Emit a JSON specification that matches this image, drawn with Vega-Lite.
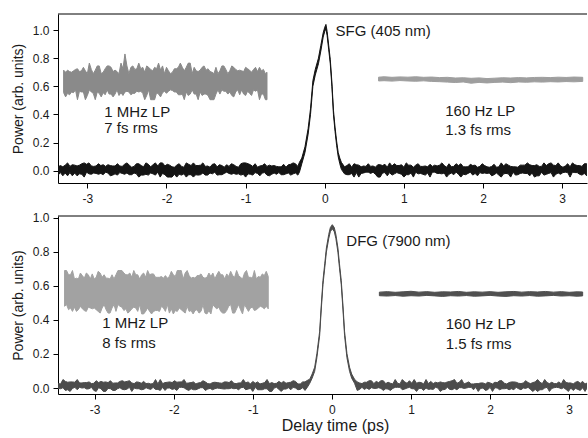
{
"$schema": "https://vega.github.io/schema/vega-lite/v6.json",
"padding": {"left": 11, "top": 13, "right": 0, "bottom": 2},
"background": "white",
"datasets": {
"top": [
{"s":"tm","t":-3.37,"l":-0.031,"h":0.028},{"s":"tm","t":-3.34,"l":-0.013,"h":0.037},{"s":"tm","t":-3.31,"l":-0.036,"h":0.028},{"s":"tm","t":-3.28,"l":-0.016,"h":0.04},{"s":"tm","t":-3.25,"l":-0.036,"h":0.056},{"s":"tm","t":-3.22,"l":-0.013,"h":0.031},{"s":"tm","t":-3.19,"l":-0.036,"h":0.043},{"s":"tm","t":-3.16,"l":-0.016,"h":0.04},{"s":"tm","t":-3.13,"l":-0.036,"h":0.034},{"s":"tm","t":-3.10,"l":-0.022,"h":0.04},
{"s":"tm","t":-3.07,"l":-0.025,"h":0.05},{"s":"tm","t":-3.04,"l":-0.045,"h":0.056},{"s":"tm","t":-3.01,"l":-0.01,"h":0.046},{"s":"tm","t":-2.98,"l":-0.022,"h":0.056},{"s":"tm","t":-2.95,"l":-0.025,"h":0.034},{"s":"tm","t":-2.92,"l":-0.016,"h":0.031},{"s":"tm","t":-2.89,"l":-0.019,"h":0.034},{"s":"tm","t":-2.86,"l":-0.025,"h":0.05},{"s":"tm","t":-2.83,"l":-0.019,"h":0.037},{"s":"tm","t":-2.80,"l":-0.028,"h":0.043},
{"s":"tm","t":-2.77,"l":-0.01,"h":0.031},{"s":"tm","t":-2.74,"l":-0.016,"h":0.043},{"s":"tm","t":-2.71,"l":-0.036,"h":0.037},{"s":"tm","t":-2.68,"l":-0.031,"h":0.034},{"s":"tm","t":-2.65,"l":-0.022,"h":0.034},{"s":"tm","t":-2.62,"l":-0.031,"h":0.05},{"s":"tm","t":-2.59,"l":-0.013,"h":0.034},{"s":"tm","t":-2.56,"l":-0.019,"h":0.031},{"s":"tm","t":-2.53,"l":-0.025,"h":0.046},{"s":"tm","t":-2.50,"l":-0.016,"h":0.056},
{"s":"tm","t":-2.47,"l":-0.028,"h":0.04},{"s":"tm","t":-2.44,"l":-0.028,"h":0.025},{"s":"tm","t":-2.41,"l":-0.016,"h":0.031},{"s":"tm","t":-2.38,"l":-0.022,"h":0.05},{"s":"tm","t":-2.35,"l":-0.045,"h":0.05},{"s":"tm","t":-2.32,"l":-0.031,"h":0.037},{"s":"tm","t":-2.29,"l":-0.031,"h":0.028},{"s":"tm","t":-2.26,"l":-0.025,"h":0.056},{"s":"tm","t":-2.23,"l":-0.031,"h":0.046},{"s":"tm","t":-2.20,"l":-0.016,"h":0.028},
{"s":"tm","t":-2.17,"l":-0.022,"h":0.043},{"s":"tm","t":-2.14,"l":-0.031,"h":0.056},{"s":"tm","t":-2.11,"l":-0.01,"h":0.034},{"s":"tm","t":-2.08,"l":-0.045,"h":0.056},{"s":"tm","t":-2.05,"l":-0.019,"h":0.056},{"s":"tm","t":-2.02,"l":-0.028,"h":0.034},{"s":"tm","t":-1.99,"l":-0.045,"h":0.046},{"s":"tm","t":-1.96,"l":-0.045,"h":0.04},{"s":"tm","t":-1.93,"l":-0.045,"h":0.028},{"s":"tm","t":-1.90,"l":-0.025,"h":0.025},
{"s":"tm","t":-1.87,"l":-0.045,"h":0.04},{"s":"tm","t":-1.84,"l":-0.025,"h":0.05},{"s":"tm","t":-1.81,"l":-0.031,"h":0.031},{"s":"tm","t":-1.78,"l":-0.022,"h":0.025},{"s":"tm","t":-1.75,"l":-0.045,"h":0.056},{"s":"tm","t":-1.72,"l":-0.028,"h":0.046},{"s":"tm","t":-1.69,"l":-0.028,"h":0.037},{"s":"tm","t":-1.66,"l":-0.045,"h":0.056},{"s":"tm","t":-1.63,"l":-0.028,"h":0.037},{"s":"tm","t":-1.60,"l":-0.031,"h":0.037},
{"s":"tm","t":-1.57,"l":-0.028,"h":0.04},{"s":"tm","t":-1.54,"l":-0.016,"h":0.056},{"s":"tm","t":-1.51,"l":-0.031,"h":0.031},{"s":"tm","t":-1.48,"l":-0.031,"h":0.034},{"s":"tm","t":-1.45,"l":-0.016,"h":0.025},{"s":"tm","t":-1.42,"l":-0.022,"h":0.046},{"s":"tm","t":-1.39,"l":-0.01,"h":0.05},{"s":"tm","t":-1.36,"l":-0.031,"h":0.028},{"s":"tm","t":-1.33,"l":-0.028,"h":0.043},{"s":"tm","t":-1.30,"l":-0.028,"h":0.037},
{"s":"tm","t":-1.27,"l":-0.019,"h":0.025},{"s":"tm","t":-1.24,"l":-0.01,"h":0.043},{"s":"tm","t":-1.21,"l":-0.019,"h":0.031},{"s":"tm","t":-1.18,"l":-0.025,"h":0.05},{"s":"tm","t":-1.15,"l":-0.019,"h":0.043},{"s":"tm","t":-1.12,"l":-0.025,"h":0.031},{"s":"tm","t":-1.09,"l":-0.022,"h":0.025},{"s":"tm","t":-1.06,"l":-0.031,"h":0.05},{"s":"tm","t":-1.03,"l":-0.025,"h":0.056},{"s":"tm","t":-1.00,"l":-0.045,"h":0.056},
{"s":"tm","t":-0.97,"l":-0.022,"h":0.05},{"s":"tm","t":-0.94,"l":-0.025,"h":0.043},{"s":"tm","t":-0.91,"l":-0.031,"h":0.031},{"s":"tm","t":-0.88,"l":-0.013,"h":0.05},{"s":"tm","t":-0.85,"l":-0.019,"h":0.025},{"s":"tm","t":-0.82,"l":-0.036,"h":0.034},{"s":"tm","t":-0.79,"l":-0.016,"h":0.037},{"s":"tm","t":-0.76,"l":-0.013,"h":0.05},{"s":"tm","t":-0.73,"l":-0.031,"h":0.031},{"s":"tm","t":-0.70,"l":-0.036,"h":0.04},
{"s":"tm","t":-0.67,"l":-0.025,"h":0.034},{"s":"tm","t":-0.64,"l":-0.016,"h":0.037},{"s":"tm","t":-0.61,"l":-0.025,"h":0.031},{"s":"tm","t":-0.58,"l":-0.013,"h":0.028},{"s":"tm","t":-0.55,"l":-0.028,"h":0.028},{"s":"tm","t":-0.52,"l":-0.028,"h":0.046},{"s":"tm","t":-0.49,"l":-0.022,"h":0.025},{"s":"tm","t":-0.46,"l":-0.016,"h":0.043},{"s":"tm","t":-0.43,"l":-0.031,"h":0.046},{"s":"tm","t":-0.40,"l":-0.022,"h":0.056},
{"s":"tm","t":-0.37,"l":-0.016,"h":0.05},{"s":"tm","t":-0.34,"l":-0.031,"h":0.031},{"s":"tm","t":-0.32,"l":-0.01,"h":0.06},
{"s":"tm","t":-0.29,"l":0.05,"h":0.09},{"s":"tm","t":-0.25,"l":0.13,"h":0.17},{"s":"tm","t":-0.21,"l":0.26,"h":0.30},{"s":"tm","t":-0.18,"l":0.40,"h":0.44},{"s":"tm","t":-0.15,"l":0.60,"h":0.64},{"s":"tm","t":-0.12,"l":0.68,"h":0.72},{"s":"tm","t":-0.08,"l":0.76,"h":0.80},{"s":"tm","t":-0.05,"l":0.85,"h":0.89},{"s":"tm","t":-0.02,"l":0.95,"h":0.98},{"s":"tm","t":0.00,"l":0.99,"h":1.02},{"s":"tm","t":0.015,"l":1.01,"h":1.04},{"s":"tm","t":0.03,"l":0.96,"h":0.99},{"s":"tm","t":0.05,"l":0.86,"h":0.89},{"s":"tm","t":0.07,"l":0.76,"h":0.79},{"s":"tm","t":0.09,"l":0.60,"h":0.63},{"s":"tm","t":0.11,"l":0.40,"h":0.43},{"s":"tm","t":0.13,"l":0.28,"h":0.31},{"s":"tm","t":0.15,"l":0.18,"h":0.21},{"s":"tm","t":0.17,"l":0.10,"h":0.13},{"s":"tm","t":0.19,"l":0.05,"h":0.09},{"s":"tm","t":0.21,"l":0.01,"h":0.06},
{"s":"tm","t":0.25,"l":-0.022,"h":0.028},{"s":"tm","t":0.28,"l":-0.028,"h":0.037},{"s":"tm","t":0.31,"l":-0.028,"h":0.05},{"s":"tm","t":0.34,"l":-0.019,"h":0.025},{"s":"tm","t":0.37,"l":-0.045,"h":0.05},{"s":"tm","t":0.40,"l":-0.013,"h":0.043},{"s":"tm","t":0.43,"l":-0.045,"h":0.04},{"s":"tm","t":0.46,"l":-0.019,"h":0.028},{"s":"tm","t":0.49,"l":-0.016,"h":0.034},{"s":"tm","t":0.52,"l":-0.01,"h":0.031},
{"s":"tm","t":0.55,"l":-0.01,"h":0.05},{"s":"tm","t":0.58,"l":-0.019,"h":0.031},{"s":"tm","t":0.61,"l":-0.01,"h":0.034},{"s":"tm","t":0.64,"l":-0.025,"h":0.025},{"s":"tm","t":0.67,"l":-0.045,"h":0.043},{"s":"tm","t":0.70,"l":-0.045,"h":0.043},{"s":"tm","t":0.73,"l":-0.016,"h":0.037},{"s":"tm","t":0.76,"l":-0.013,"h":0.046},{"s":"tm","t":0.79,"l":-0.036,"h":0.025},{"s":"tm","t":0.82,"l":-0.013,"h":0.056},
{"s":"tm","t":0.85,"l":-0.031,"h":0.034},{"s":"tm","t":0.88,"l":-0.022,"h":0.05},{"s":"tm","t":0.91,"l":-0.013,"h":0.037},{"s":"tm","t":0.94,"l":-0.019,"h":0.037},{"s":"tm","t":0.97,"l":-0.025,"h":0.043},{"s":"tm","t":1.00,"l":-0.045,"h":0.025},{"s":"tm","t":1.03,"l":-0.028,"h":0.056},{"s":"tm","t":1.06,"l":-0.028,"h":0.04},{"s":"tm","t":1.09,"l":-0.016,"h":0.04},{"s":"tm","t":1.12,"l":-0.045,"h":0.025},
{"s":"tm","t":1.15,"l":-0.01,"h":0.04},{"s":"tm","t":1.18,"l":-0.022,"h":0.05},{"s":"tm","t":1.21,"l":-0.019,"h":0.031},{"s":"tm","t":1.24,"l":-0.025,"h":0.031},{"s":"tm","t":1.27,"l":-0.031,"h":0.034},{"s":"tm","t":1.30,"l":-0.016,"h":0.028},{"s":"tm","t":1.33,"l":-0.045,"h":0.046},{"s":"tm","t":1.36,"l":-0.01,"h":0.031},{"s":"tm","t":1.39,"l":-0.01,"h":0.04},{"s":"tm","t":1.42,"l":-0.019,"h":0.034},
{"s":"tm","t":1.45,"l":-0.019,"h":0.04},{"s":"tm","t":1.48,"l":-0.022,"h":0.056},{"s":"tm","t":1.51,"l":-0.016,"h":0.037},{"s":"tm","t":1.54,"l":-0.045,"h":0.025},{"s":"tm","t":1.57,"l":-0.025,"h":0.05},{"s":"tm","t":1.60,"l":-0.016,"h":0.028},{"s":"tm","t":1.63,"l":-0.028,"h":0.031},{"s":"tm","t":1.66,"l":-0.01,"h":0.05},{"s":"tm","t":1.69,"l":-0.025,"h":0.037},{"s":"tm","t":1.72,"l":-0.045,"h":0.05},
{"s":"tm","t":1.75,"l":-0.025,"h":0.028},{"s":"tm","t":1.78,"l":-0.028,"h":0.028},{"s":"tm","t":1.81,"l":-0.019,"h":0.028},{"s":"tm","t":1.84,"l":-0.01,"h":0.046},{"s":"tm","t":1.87,"l":-0.031,"h":0.037},{"s":"tm","t":1.90,"l":-0.019,"h":0.04},{"s":"tm","t":1.93,"l":-0.036,"h":0.025},{"s":"tm","t":1.96,"l":-0.013,"h":0.031},{"s":"tm","t":1.99,"l":-0.019,"h":0.05},{"s":"tm","t":2.02,"l":-0.016,"h":0.037},
{"s":"tm","t":2.05,"l":-0.019,"h":0.028},{"s":"tm","t":2.08,"l":-0.016,"h":0.025},{"s":"tm","t":2.11,"l":-0.036,"h":0.031},{"s":"tm","t":2.14,"l":-0.028,"h":0.046},{"s":"tm","t":2.17,"l":-0.016,"h":0.025},{"s":"tm","t":2.20,"l":-0.031,"h":0.028},{"s":"tm","t":2.23,"l":-0.045,"h":0.056},{"s":"tm","t":2.26,"l":-0.022,"h":0.034},{"s":"tm","t":2.29,"l":-0.019,"h":0.05},{"s":"tm","t":2.32,"l":-0.022,"h":0.04},
{"s":"tm","t":2.35,"l":-0.045,"h":0.031},{"s":"tm","t":2.38,"l":-0.01,"h":0.028},{"s":"tm","t":2.41,"l":-0.031,"h":0.028},{"s":"tm","t":2.44,"l":-0.028,"h":0.025},{"s":"tm","t":2.47,"l":-0.019,"h":0.04},{"s":"tm","t":2.50,"l":-0.016,"h":0.04},{"s":"tm","t":2.53,"l":-0.019,"h":0.04},{"s":"tm","t":2.56,"l":-0.019,"h":0.056},{"s":"tm","t":2.59,"l":-0.036,"h":0.043},{"s":"tm","t":2.62,"l":-0.016,"h":0.037},
{"s":"tm","t":2.65,"l":-0.045,"h":0.037},{"s":"tm","t":2.68,"l":-0.036,"h":0.043},{"s":"tm","t":2.71,"l":-0.036,"h":0.031},{"s":"tm","t":2.74,"l":-0.01,"h":0.031},{"s":"tm","t":2.77,"l":-0.031,"h":0.056},{"s":"tm","t":2.80,"l":-0.025,"h":0.037},{"s":"tm","t":2.83,"l":-0.019,"h":0.05},{"s":"tm","t":2.86,"l":-0.013,"h":0.056},{"s":"tm","t":2.89,"l":-0.045,"h":0.04},{"s":"tm","t":2.92,"l":-0.025,"h":0.037},
{"s":"tm","t":2.95,"l":-0.016,"h":0.056},{"s":"tm","t":2.98,"l":-0.025,"h":0.034},{"s":"tm","t":3.01,"l":-0.013,"h":0.025},{"s":"tm","t":3.04,"l":-0.01,"h":0.034},{"s":"tm","t":3.07,"l":-0.013,"h":0.05},{"s":"tm","t":3.10,"l":-0.045,"h":0.028},{"s":"tm","t":3.13,"l":-0.01,"h":0.056},{"s":"tm","t":3.16,"l":-0.013,"h":0.043},{"s":"tm","t":3.19,"l":-0.013,"h":0.037},{"s":"tm","t":3.22,"l":-0.025,"h":0.037},
{"s":"tm","t":3.25,"l":-0.031,"h":0.031},{"s":"tm","t":3.28,"l":-0.019,"h":0.05},{"s":"tm","t":3.31,"l":-0.036,"h":0.05},
{"s":"ta","t":-3.300,"l":0.555,"h":0.715},{"s":"ta","t":-3.275,"l":0.525,"h":0.70},{"s":"ta","t":-3.250,"l":0.55,"h":0.715},{"s":"ta","t":-3.225,"l":0.54,"h":0.705},{"s":"ta","t":-3.200,"l":0.56,"h":0.70},{"s":"ta","t":-3.175,"l":0.555,"h":0.71},{"s":"ta","t":-3.150,"l":0.575,"h":0.72},{"s":"ta","t":-3.125,"l":0.505,"h":0.725},{"s":"ta","t":-3.100,"l":0.565,"h":0.705},{"s":"ta","t":-3.075,"l":0.56,"h":0.71},
{"s":"ta","t":-3.050,"l":0.56,"h":0.735},{"s":"ta","t":-3.025,"l":0.505,"h":0.71},{"s":"ta","t":-3.000,"l":0.535,"h":0.69},{"s":"ta","t":-2.975,"l":0.575,"h":0.765},{"s":"ta","t":-2.950,"l":0.56,"h":0.72},{"s":"ta","t":-2.925,"l":0.55,"h":0.69},{"s":"ta","t":-2.900,"l":0.505,"h":0.715},{"s":"ta","t":-2.875,"l":0.56,"h":0.745},{"s":"ta","t":-2.850,"l":0.55,"h":0.745},{"s":"ta","t":-2.825,"l":0.525,"h":0.69},
{"s":"ta","t":-2.800,"l":0.555,"h":0.70},{"s":"ta","t":-2.775,"l":0.54,"h":0.725},{"s":"ta","t":-2.750,"l":0.575,"h":0.745},{"s":"ta","t":-2.725,"l":0.545,"h":0.745},{"s":"ta","t":-2.700,"l":0.545,"h":0.735},{"s":"ta","t":-2.675,"l":0.525,"h":0.705},{"s":"ta","t":-2.650,"l":0.545,"h":0.715},{"s":"ta","t":-2.625,"l":0.575,"h":0.705},{"s":"ta","t":-2.600,"l":0.535,"h":0.69},{"s":"ta","t":-2.575,"l":0.555,"h":0.765},
{"s":"ta","t":-2.550,"l":0.535,"h":0.725},{"s":"ta","t":-2.525,"l":0.56,"h":0.83},{"s":"ta","t":-2.500,"l":0.565,"h":0.745},{"s":"ta","t":-2.475,"l":0.56,"h":0.69},{"s":"ta","t":-2.450,"l":0.54,"h":0.735},{"s":"ta","t":-2.425,"l":0.55,"h":0.745},{"s":"ta","t":-2.400,"l":0.55,"h":0.72},{"s":"ta","t":-2.375,"l":0.565,"h":0.725},{"s":"ta","t":-2.350,"l":0.56,"h":0.765},{"s":"ta","t":-2.325,"l":0.565,"h":0.725},
{"s":"ta","t":-2.300,"l":0.55,"h":0.735},{"s":"ta","t":-2.275,"l":0.505,"h":0.70},{"s":"ta","t":-2.250,"l":0.535,"h":0.745},{"s":"ta","t":-2.225,"l":0.575,"h":0.735},{"s":"ta","t":-2.200,"l":0.505,"h":0.72},{"s":"ta","t":-2.175,"l":0.505,"h":0.71},{"s":"ta","t":-2.150,"l":0.505,"h":0.735},{"s":"ta","t":-2.125,"l":0.555,"h":0.725},{"s":"ta","t":-2.100,"l":0.545,"h":0.765},{"s":"ta","t":-2.075,"l":0.525,"h":0.715},
{"s":"ta","t":-2.050,"l":0.555,"h":0.745},{"s":"ta","t":-2.025,"l":0.565,"h":0.69},{"s":"ta","t":-2.000,"l":0.55,"h":0.735},{"s":"ta","t":-1.975,"l":0.565,"h":0.71},{"s":"ta","t":-1.950,"l":0.575,"h":0.69},{"s":"ta","t":-1.925,"l":0.57,"h":0.70},{"s":"ta","t":-1.900,"l":0.56,"h":0.725},{"s":"ta","t":-1.875,"l":0.56,"h":0.725},{"s":"ta","t":-1.850,"l":0.54,"h":0.735},{"s":"ta","t":-1.825,"l":0.54,"h":0.765},
{"s":"ta","t":-1.800,"l":0.545,"h":0.735},{"s":"ta","t":-1.775,"l":0.505,"h":0.71},{"s":"ta","t":-1.750,"l":0.56,"h":0.735},{"s":"ta","t":-1.725,"l":0.535,"h":0.765},{"s":"ta","t":-1.700,"l":0.545,"h":0.765},{"s":"ta","t":-1.675,"l":0.575,"h":0.69},{"s":"ta","t":-1.650,"l":0.545,"h":0.735},{"s":"ta","t":-1.625,"l":0.545,"h":0.71},{"s":"ta","t":-1.600,"l":0.505,"h":0.705},{"s":"ta","t":-1.575,"l":0.56,"h":0.715},
{"s":"ta","t":-1.550,"l":0.535,"h":0.735},{"s":"ta","t":-1.525,"l":0.545,"h":0.745},{"s":"ta","t":-1.500,"l":0.545,"h":0.715},{"s":"ta","t":-1.475,"l":0.535,"h":0.725},{"s":"ta","t":-1.450,"l":0.505,"h":0.705},{"s":"ta","t":-1.425,"l":0.505,"h":0.70},{"s":"ta","t":-1.400,"l":0.505,"h":0.69},{"s":"ta","t":-1.375,"l":0.545,"h":0.735},{"s":"ta","t":-1.350,"l":0.575,"h":0.69},{"s":"ta","t":-1.325,"l":0.545,"h":0.71},
{"s":"ta","t":-1.300,"l":0.575,"h":0.745},{"s":"ta","t":-1.275,"l":0.565,"h":0.745},{"s":"ta","t":-1.250,"l":0.565,"h":0.72},{"s":"ta","t":-1.225,"l":0.545,"h":0.69},{"s":"ta","t":-1.200,"l":0.56,"h":0.71},{"s":"ta","t":-1.175,"l":0.535,"h":0.745},{"s":"ta","t":-1.150,"l":0.525,"h":0.735},{"s":"ta","t":-1.125,"l":0.56,"h":0.72},{"s":"ta","t":-1.100,"l":0.575,"h":0.71},{"s":"ta","t":-1.075,"l":0.54,"h":0.715},
{"s":"ta","t":-1.050,"l":0.575,"h":0.71},{"s":"ta","t":-1.025,"l":0.545,"h":0.705},{"s":"ta","t":-1.000,"l":0.535,"h":0.735},{"s":"ta","t":-0.975,"l":0.565,"h":0.725},{"s":"ta","t":-0.950,"l":0.55,"h":0.715},{"s":"ta","t":-0.925,"l":0.535,"h":0.70},{"s":"ta","t":-0.900,"l":0.575,"h":0.72},{"s":"ta","t":-0.875,"l":0.565,"h":0.735},{"s":"ta","t":-0.850,"l":0.575,"h":0.705},{"s":"ta","t":-0.825,"l":0.505,"h":0.735},
{"s":"ta","t":-0.800,"l":0.545,"h":0.71},{"s":"ta","t":-0.775,"l":0.545,"h":0.72},{"s":"ta","t":-0.750,"l":0.505,"h":0.69},{"s":"ta","t":-0.730,"l":0.505,"h":0.70},
{"s":"tb","t":0.68,"l":0.638,"h":0.665},{"s":"tb","t":0.75,"l":0.640,"h":0.668},{"s":"tb","t":0.85,"l":0.637,"h":0.664},{"s":"tb","t":0.95,"l":0.641,"h":0.667},{"s":"tb","t":1.05,"l":0.638,"h":0.665},{"s":"tb","t":1.15,"l":0.636,"h":0.668},{"s":"tb","t":1.25,"l":0.639,"h":0.664},{"s":"tb","t":1.35,"l":0.635,"h":0.666},{"s":"tb","t":1.45,"l":0.633,"h":0.662},{"s":"tb","t":1.55,"l":0.630,"h":0.664},{"s":"tb","t":1.65,"l":0.627,"h":0.659},{"s":"tb","t":1.75,"l":0.631,"h":0.661},{"s":"tb","t":1.85,"l":0.622,"h":0.657},{"s":"tb","t":1.95,"l":0.628,"h":0.660},{"s":"tb","t":2.05,"l":0.624,"h":0.655},{"s":"tb","t":2.15,"l":0.628,"h":0.658},{"s":"tb","t":2.25,"l":0.630,"h":0.661},{"s":"tb","t":2.35,"l":0.626,"h":0.659},{"s":"tb","t":2.45,"l":0.631,"h":0.662},{"s":"tb","t":2.55,"l":0.629,"h":0.660},{"s":"tb","t":2.65,"l":0.632,"h":0.663},{"s":"tb","t":2.75,"l":0.630,"h":0.664},{"s":"tb","t":2.85,"l":0.633,"h":0.662},{"s":"tb","t":2.95,"l":0.631,"h":0.665},{"s":"tb","t":3.05,"l":0.634,"h":0.663},{"s":"tb","t":3.15,"l":0.632,"h":0.666},{"s":"tb","t":3.26,"l":0.635,"h":0.664}
],
"bot": [
{"s":"bm","t":-3.46,"l":-0.002,"h":0.026},{"s":"bm","t":-3.43,"l":-0.004,"h":0.024},{"s":"bm","t":-3.40,"l":0.002,"h":0.05},{"s":"bm","t":-3.37,"l":-0.014,"h":0.039},{"s":"bm","t":-3.34,"l":-0.01,"h":0.034},{"s":"bm","t":-3.31,"l":-0.02,"h":0.036},{"s":"bm","t":-3.28,"l":-0.002,"h":0.036},{"s":"bm","t":-3.25,"l":0.004,"h":0.034},{"s":"bm","t":-3.22,"l":-0.01,"h":0.05},{"s":"bm","t":-3.19,"l":0.004,"h":0.03},
{"s":"bm","t":-3.16,"l":0.0,"h":0.03},{"s":"bm","t":-3.13,"l":0.002,"h":0.032},{"s":"bm","t":-3.10,"l":-0.006,"h":0.032},{"s":"bm","t":-3.07,"l":-0.004,"h":0.036},{"s":"bm","t":-3.04,"l":0.004,"h":0.026},{"s":"bm","t":-3.01,"l":-0.014,"h":0.028},{"s":"bm","t":-2.98,"l":-0.02,"h":0.043},{"s":"bm","t":-2.95,"l":0.002,"h":0.032},{"s":"bm","t":-2.92,"l":-0.004,"h":0.039},{"s":"bm","t":-2.89,"l":-0.02,"h":0.034},
{"s":"bm","t":-2.86,"l":-0.02,"h":0.036},{"s":"bm","t":-2.83,"l":-0.002,"h":0.032},{"s":"bm","t":-2.80,"l":-0.004,"h":0.043},{"s":"bm","t":-2.77,"l":-0.014,"h":0.028},{"s":"bm","t":-2.74,"l":-0.014,"h":0.03},{"s":"bm","t":-2.71,"l":-0.004,"h":0.03},{"s":"bm","t":-2.68,"l":0.002,"h":0.039},{"s":"bm","t":-2.65,"l":-0.008,"h":0.043},{"s":"bm","t":-2.62,"l":-0.01,"h":0.036},{"s":"bm","t":-2.59,"l":-0.006,"h":0.039},
{"s":"bm","t":-2.56,"l":0.004,"h":0.043},{"s":"bm","t":-2.53,"l":-0.02,"h":0.03},{"s":"bm","t":-2.50,"l":0.0,"h":0.026},{"s":"bm","t":-2.47,"l":-0.004,"h":0.036},{"s":"bm","t":-2.44,"l":-0.004,"h":0.034},{"s":"bm","t":-2.41,"l":-0.01,"h":0.028},{"s":"bm","t":-2.38,"l":-0.008,"h":0.039},{"s":"bm","t":-2.35,"l":0.002,"h":0.026},{"s":"bm","t":-2.32,"l":-0.004,"h":0.028},{"s":"bm","t":-2.29,"l":-0.008,"h":0.024},
{"s":"bm","t":-2.26,"l":0.004,"h":0.026},{"s":"bm","t":-2.23,"l":-0.008,"h":0.05},{"s":"bm","t":-2.20,"l":-0.008,"h":0.024},{"s":"bm","t":-2.17,"l":-0.014,"h":0.05},{"s":"bm","t":-2.14,"l":0.004,"h":0.026},{"s":"bm","t":-2.11,"l":-0.014,"h":0.032},{"s":"bm","t":-2.08,"l":0.0,"h":0.034},{"s":"bm","t":-2.05,"l":0.0,"h":0.036},{"s":"bm","t":-2.02,"l":-0.008,"h":0.032},{"s":"bm","t":-1.99,"l":-0.004,"h":0.043},
{"s":"bm","t":-1.96,"l":-0.014,"h":0.034},{"s":"bm","t":-1.93,"l":0.004,"h":0.036},{"s":"bm","t":-1.90,"l":0.004,"h":0.036},{"s":"bm","t":-1.87,"l":0.002,"h":0.05},{"s":"bm","t":-1.84,"l":-0.008,"h":0.028},{"s":"bm","t":-1.81,"l":-0.014,"h":0.03},{"s":"bm","t":-1.78,"l":-0.004,"h":0.032},{"s":"bm","t":-1.75,"l":-0.01,"h":0.036},{"s":"bm","t":-1.72,"l":-0.01,"h":0.024},{"s":"bm","t":-1.69,"l":-0.004,"h":0.03},
{"s":"bm","t":-1.66,"l":0.002,"h":0.032},{"s":"bm","t":-1.63,"l":0.002,"h":0.043},{"s":"bm","t":-1.60,"l":-0.014,"h":0.036},{"s":"bm","t":-1.57,"l":-0.006,"h":0.026},{"s":"bm","t":-1.54,"l":-0.002,"h":0.024},{"s":"bm","t":-1.51,"l":-0.01,"h":0.032},{"s":"bm","t":-1.48,"l":-0.004,"h":0.034},{"s":"bm","t":-1.45,"l":0.0,"h":0.032},{"s":"bm","t":-1.42,"l":-0.002,"h":0.03},{"s":"bm","t":-1.39,"l":-0.004,"h":0.028},
{"s":"bm","t":-1.36,"l":-0.006,"h":0.036},{"s":"bm","t":-1.33,"l":-0.004,"h":0.036},{"s":"bm","t":-1.30,"l":-0.004,"h":0.032},{"s":"bm","t":-1.27,"l":0.0,"h":0.043},{"s":"bm","t":-1.24,"l":-0.004,"h":0.028},{"s":"bm","t":-1.21,"l":-0.002,"h":0.026},{"s":"bm","t":-1.18,"l":-0.01,"h":0.03},{"s":"bm","t":-1.15,"l":0.002,"h":0.03},{"s":"bm","t":-1.12,"l":0.004,"h":0.05},{"s":"bm","t":-1.09,"l":-0.01,"h":0.03},
{"s":"bm","t":-1.06,"l":-0.006,"h":0.036},{"s":"bm","t":-1.03,"l":-0.002,"h":0.024},{"s":"bm","t":-1.00,"l":-0.02,"h":0.039},{"s":"bm","t":-0.97,"l":0.004,"h":0.028},{"s":"bm","t":-0.94,"l":-0.01,"h":0.036},{"s":"bm","t":-0.91,"l":-0.01,"h":0.024},{"s":"bm","t":-0.88,"l":-0.01,"h":0.028},{"s":"bm","t":-0.85,"l":-0.004,"h":0.032},{"s":"bm","t":-0.82,"l":-0.004,"h":0.05},{"s":"bm","t":-0.79,"l":-0.02,"h":0.026},
{"s":"bm","t":-0.76,"l":-0.02,"h":0.032},{"s":"bm","t":-0.73,"l":0.0,"h":0.026},{"s":"bm","t":-0.70,"l":0.004,"h":0.028},{"s":"bm","t":-0.67,"l":-0.008,"h":0.039},{"s":"bm","t":-0.64,"l":-0.02,"h":0.03},{"s":"bm","t":-0.61,"l":-0.006,"h":0.039},{"s":"bm","t":-0.58,"l":-0.006,"h":0.028},{"s":"bm","t":-0.55,"l":0.002,"h":0.032},{"s":"bm","t":-0.52,"l":-0.01,"h":0.034},{"s":"bm","t":-0.49,"l":0.004,"h":0.043},
{"s":"bm","t":-0.46,"l":0.0,"h":0.039},{"s":"bm","t":-0.43,"l":-0.01,"h":0.024},{"s":"bm","t":-0.40,"l":-0.008,"h":0.024},{"s":"bm","t":-0.37,"l":0.002,"h":0.036},{"s":"bm","t":-0.34,"l":-0.014,"h":0.036},{"s":"bm","t":-0.31,"l":0.005,"h":0.045},
{"s":"bm","t":-0.28,"l":0.028,"h":0.052},{"s":"bm","t":-0.25,"l":0.058,"h":0.082},{"s":"bm","t":-0.218,"l":0.098,"h":0.122},{"s":"bm","t":-0.19,"l":0.178,"h":0.202},{"s":"bm","t":-0.155,"l":0.308,"h":0.332},{"s":"bm","t":-0.135,"l":0.458,"h":0.482},{"s":"bm","t":-0.113,"l":0.608,"h":0.632},{"s":"bm","t":-0.09,"l":0.708,"h":0.732},{"s":"bm","t":-0.07,"l":0.798,"h":0.822},{"s":"bm","t":-0.04,"l":0.878,"h":0.902},{"s":"bm","t":-0.02,"l":0.918,"h":0.942},{"s":"bm","t":0.005,"l":0.935,"h":0.959},{"s":"bm","t":0.03,"l":0.918,"h":0.942},{"s":"bm","t":0.05,"l":0.878,"h":0.902},{"s":"bm","t":0.076,"l":0.798,"h":0.822},{"s":"bm","t":0.095,"l":0.708,"h":0.732},{"s":"bm","t":0.118,"l":0.608,"h":0.632},{"s":"bm","t":0.14,"l":0.458,"h":0.482},{"s":"bm","t":0.16,"l":0.308,"h":0.332},{"s":"bm","t":0.19,"l":0.178,"h":0.202},{"s":"bm","t":0.223,"l":0.098,"h":0.122},{"s":"bm","t":0.25,"l":0.058,"h":0.082},{"s":"bm","t":0.286,"l":0.028,"h":0.052},
{"s":"bm","t":0.32,"l":-0.014,"h":0.036},{"s":"bm","t":0.35,"l":-0.008,"h":0.03},{"s":"bm","t":0.38,"l":0.004,"h":0.026},{"s":"bm","t":0.41,"l":-0.008,"h":0.034},{"s":"bm","t":0.44,"l":0.0,"h":0.034},{"s":"bm","t":0.47,"l":-0.008,"h":0.043},{"s":"bm","t":0.50,"l":0.002,"h":0.043},{"s":"bm","t":0.53,"l":-0.002,"h":0.026},{"s":"bm","t":0.56,"l":-0.002,"h":0.039},{"s":"bm","t":0.59,"l":0.002,"h":0.032},
{"s":"bm","t":0.62,"l":-0.002,"h":0.043},{"s":"bm","t":0.65,"l":-0.014,"h":0.043},{"s":"bm","t":0.68,"l":-0.004,"h":0.026},{"s":"bm","t":0.71,"l":-0.006,"h":0.034},{"s":"bm","t":0.74,"l":-0.014,"h":0.028},{"s":"bm","t":0.77,"l":-0.002,"h":0.024},{"s":"bm","t":0.80,"l":0.004,"h":0.05},{"s":"bm","t":0.83,"l":0.004,"h":0.028},{"s":"bm","t":0.86,"l":0.004,"h":0.024},{"s":"bm","t":0.89,"l":-0.01,"h":0.05},
{"s":"bm","t":0.92,"l":-0.006,"h":0.036},{"s":"bm","t":0.95,"l":0.0,"h":0.028},{"s":"bm","t":0.98,"l":0.004,"h":0.043},{"s":"bm","t":1.01,"l":-0.004,"h":0.028},{"s":"bm","t":1.04,"l":-0.004,"h":0.05},{"s":"bm","t":1.07,"l":-0.02,"h":0.028},{"s":"bm","t":1.10,"l":-0.002,"h":0.034},{"s":"bm","t":1.13,"l":-0.002,"h":0.032},{"s":"bm","t":1.16,"l":-0.014,"h":0.024},{"s":"bm","t":1.19,"l":0.0,"h":0.05},
{"s":"bm","t":1.22,"l":-0.008,"h":0.026},{"s":"bm","t":1.25,"l":-0.006,"h":0.039},{"s":"bm","t":1.28,"l":-0.008,"h":0.026},{"s":"bm","t":1.31,"l":0.004,"h":0.034},{"s":"bm","t":1.34,"l":0.0,"h":0.03},{"s":"bm","t":1.37,"l":-0.02,"h":0.036},{"s":"bm","t":1.40,"l":-0.01,"h":0.032},{"s":"bm","t":1.43,"l":-0.008,"h":0.03},{"s":"bm","t":1.46,"l":0.004,"h":0.036},{"s":"bm","t":1.49,"l":-0.008,"h":0.039},
{"s":"bm","t":1.52,"l":-0.01,"h":0.043},{"s":"bm","t":1.55,"l":-0.002,"h":0.05},{"s":"bm","t":1.58,"l":-0.01,"h":0.028},{"s":"bm","t":1.61,"l":0.002,"h":0.034},{"s":"bm","t":1.64,"l":0.002,"h":0.05},{"s":"bm","t":1.67,"l":-0.002,"h":0.024},{"s":"bm","t":1.70,"l":0.0,"h":0.03},{"s":"bm","t":1.73,"l":0.004,"h":0.036},{"s":"bm","t":1.76,"l":0.004,"h":0.024},{"s":"bm","t":1.79,"l":-0.01,"h":0.024},
{"s":"bm","t":1.82,"l":0.004,"h":0.026},{"s":"bm","t":1.85,"l":-0.02,"h":0.026},{"s":"bm","t":1.88,"l":-0.002,"h":0.03},{"s":"bm","t":1.91,"l":0.0,"h":0.03},{"s":"bm","t":1.94,"l":-0.014,"h":0.024},{"s":"bm","t":1.97,"l":-0.01,"h":0.034},{"s":"bm","t":2.00,"l":0.004,"h":0.03},{"s":"bm","t":2.03,"l":-0.02,"h":0.024},{"s":"bm","t":2.06,"l":0.002,"h":0.034},{"s":"bm","t":2.09,"l":0.0,"h":0.032},
{"s":"bm","t":2.12,"l":-0.01,"h":0.043},{"s":"bm","t":2.15,"l":-0.004,"h":0.043},{"s":"bm","t":2.18,"l":-0.004,"h":0.028},{"s":"bm","t":2.21,"l":-0.002,"h":0.024},{"s":"bm","t":2.24,"l":-0.01,"h":0.032},{"s":"bm","t":2.27,"l":-0.004,"h":0.036},{"s":"bm","t":2.30,"l":-0.01,"h":0.036},{"s":"bm","t":2.33,"l":0.004,"h":0.034},{"s":"bm","t":2.36,"l":-0.004,"h":0.028},{"s":"bm","t":2.39,"l":-0.01,"h":0.026},
{"s":"bm","t":2.42,"l":0.0,"h":0.03},{"s":"bm","t":2.45,"l":-0.002,"h":0.043},{"s":"bm","t":2.48,"l":0.004,"h":0.032},{"s":"bm","t":2.51,"l":-0.008,"h":0.026},{"s":"bm","t":2.54,"l":-0.02,"h":0.032},{"s":"bm","t":2.57,"l":-0.008,"h":0.036},{"s":"bm","t":2.60,"l":-0.02,"h":0.05},{"s":"bm","t":2.63,"l":-0.01,"h":0.034},{"s":"bm","t":2.66,"l":-0.01,"h":0.026},{"s":"bm","t":2.69,"l":0.0,"h":0.05},
{"s":"bm","t":2.72,"l":0.004,"h":0.032},{"s":"bm","t":2.75,"l":-0.02,"h":0.026},{"s":"bm","t":2.78,"l":-0.002,"h":0.034},{"s":"bm","t":2.81,"l":0.002,"h":0.026},{"s":"bm","t":2.84,"l":0.004,"h":0.026},{"s":"bm","t":2.87,"l":0.002,"h":0.036},{"s":"bm","t":2.90,"l":-0.004,"h":0.024},{"s":"bm","t":2.93,"l":0.002,"h":0.05},{"s":"bm","t":2.96,"l":-0.008,"h":0.032},{"s":"bm","t":2.99,"l":-0.02,"h":0.03},
{"s":"bm","t":3.02,"l":0.0,"h":0.03},{"s":"bm","t":3.05,"l":-0.014,"h":0.024},{"s":"bm","t":3.08,"l":-0.002,"h":0.034},{"s":"bm","t":3.11,"l":-0.008,"h":0.039},{"s":"bm","t":3.14,"l":-0.014,"h":0.028},{"s":"bm","t":3.17,"l":0.002,"h":0.039},{"s":"bm","t":3.20,"l":-0.02,"h":0.024},{"s":"bm","t":3.23,"l":0.004,"h":0.03},
{"s":"ba","t":-3.380,"l":0.48,"h":0.69},{"s":"ba","t":-3.355,"l":0.49,"h":0.69},{"s":"ba","t":-3.330,"l":0.46,"h":0.665},{"s":"ba","t":-3.305,"l":0.47,"h":0.665},{"s":"ba","t":-3.280,"l":0.45,"h":0.69},{"s":"ba","t":-3.255,"l":0.475,"h":0.64},{"s":"ba","t":-3.230,"l":0.45,"h":0.645},{"s":"ba","t":-3.205,"l":0.46,"h":0.64},{"s":"ba","t":-3.180,"l":0.48,"h":0.675},{"s":"ba","t":-3.155,"l":0.465,"h":0.66},
{"s":"ba","t":-3.130,"l":0.455,"h":0.645},{"s":"ba","t":-3.105,"l":0.45,"h":0.675},{"s":"ba","t":-3.080,"l":0.475,"h":0.665},{"s":"ba","t":-3.055,"l":0.47,"h":0.64},{"s":"ba","t":-3.030,"l":0.465,"h":0.67},{"s":"ba","t":-3.005,"l":0.47,"h":0.64},{"s":"ba","t":-2.980,"l":0.46,"h":0.65},{"s":"ba","t":-2.955,"l":0.45,"h":0.685},{"s":"ba","t":-2.930,"l":0.44,"h":0.675},{"s":"ba","t":-2.905,"l":0.47,"h":0.65},
{"s":"ba","t":-2.880,"l":0.49,"h":0.665},{"s":"ba","t":-2.855,"l":0.46,"h":0.645},{"s":"ba","t":-2.830,"l":0.44,"h":0.645},{"s":"ba","t":-2.805,"l":0.44,"h":0.64},{"s":"ba","t":-2.780,"l":0.47,"h":0.665},{"s":"ba","t":-2.755,"l":0.49,"h":0.64},{"s":"ba","t":-2.730,"l":0.45,"h":0.665},{"s":"ba","t":-2.705,"l":0.49,"h":0.69},{"s":"ba","t":-2.680,"l":0.48,"h":0.69},{"s":"ba","t":-2.655,"l":0.475,"h":0.69},
{"s":"ba","t":-2.630,"l":0.455,"h":0.675},{"s":"ba","t":-2.605,"l":0.465,"h":0.665},{"s":"ba","t":-2.580,"l":0.44,"h":0.665},{"s":"ba","t":-2.555,"l":0.45,"h":0.675},{"s":"ba","t":-2.530,"l":0.465,"h":0.65},{"s":"ba","t":-2.505,"l":0.475,"h":0.69},{"s":"ba","t":-2.480,"l":0.47,"h":0.665},{"s":"ba","t":-2.455,"l":0.45,"h":0.665},{"s":"ba","t":-2.430,"l":0.49,"h":0.64},{"s":"ba","t":-2.405,"l":0.435,"h":0.665},
{"s":"ba","t":-2.380,"l":0.435,"h":0.675},{"s":"ba","t":-2.355,"l":0.45,"h":0.65},{"s":"ba","t":-2.330,"l":0.47,"h":0.69},{"s":"ba","t":-2.305,"l":0.45,"h":0.665},{"s":"ba","t":-2.280,"l":0.435,"h":0.67},{"s":"ba","t":-2.255,"l":0.45,"h":0.67},{"s":"ba","t":-2.230,"l":0.455,"h":0.65},{"s":"ba","t":-2.205,"l":0.455,"h":0.65},{"s":"ba","t":-2.180,"l":0.45,"h":0.65},{"s":"ba","t":-2.155,"l":0.48,"h":0.655},
{"s":"ba","t":-2.130,"l":0.47,"h":0.645},{"s":"ba","t":-2.105,"l":0.45,"h":0.66},{"s":"ba","t":-2.080,"l":0.49,"h":0.645},{"s":"ba","t":-2.055,"l":0.44,"h":0.655},{"s":"ba","t":-2.030,"l":0.465,"h":0.685},{"s":"ba","t":-2.005,"l":0.435,"h":0.665},{"s":"ba","t":-1.980,"l":0.455,"h":0.655},{"s":"ba","t":-1.955,"l":0.45,"h":0.69},{"s":"ba","t":-1.930,"l":0.47,"h":0.69},{"s":"ba","t":-1.905,"l":0.46,"h":0.69},
{"s":"ba","t":-1.880,"l":0.45,"h":0.64},{"s":"ba","t":-1.855,"l":0.44,"h":0.675},{"s":"ba","t":-1.830,"l":0.48,"h":0.69},{"s":"ba","t":-1.805,"l":0.45,"h":0.66},{"s":"ba","t":-1.780,"l":0.455,"h":0.645},{"s":"ba","t":-1.755,"l":0.435,"h":0.65},{"s":"ba","t":-1.730,"l":0.455,"h":0.645},{"s":"ba","t":-1.705,"l":0.46,"h":0.66},{"s":"ba","t":-1.680,"l":0.44,"h":0.66},{"s":"ba","t":-1.655,"l":0.45,"h":0.67},
{"s":"ba","t":-1.630,"l":0.49,"h":0.65},{"s":"ba","t":-1.605,"l":0.44,"h":0.645},{"s":"ba","t":-1.580,"l":0.435,"h":0.65},{"s":"ba","t":-1.555,"l":0.455,"h":0.675},{"s":"ba","t":-1.530,"l":0.435,"h":0.655},{"s":"ba","t":-1.505,"l":0.49,"h":0.675},{"s":"ba","t":-1.480,"l":0.475,"h":0.64},{"s":"ba","t":-1.455,"l":0.465,"h":0.665},{"s":"ba","t":-1.430,"l":0.475,"h":0.685},{"s":"ba","t":-1.405,"l":0.45,"h":0.665},
{"s":"ba","t":-1.380,"l":0.44,"h":0.665},{"s":"ba","t":-1.355,"l":0.44,"h":0.64},{"s":"ba","t":-1.330,"l":0.455,"h":0.67},{"s":"ba","t":-1.305,"l":0.48,"h":0.655},{"s":"ba","t":-1.280,"l":0.49,"h":0.685},{"s":"ba","t":-1.255,"l":0.44,"h":0.66},{"s":"ba","t":-1.230,"l":0.44,"h":0.65},{"s":"ba","t":-1.205,"l":0.465,"h":0.69},{"s":"ba","t":-1.180,"l":0.49,"h":0.66},{"s":"ba","t":-1.155,"l":0.46,"h":0.65},
{"s":"ba","t":-1.130,"l":0.435,"h":0.64},{"s":"ba","t":-1.105,"l":0.49,"h":0.675},{"s":"ba","t":-1.080,"l":0.47,"h":0.69},{"s":"ba","t":-1.055,"l":0.45,"h":0.65},{"s":"ba","t":-1.030,"l":0.47,"h":0.65},{"s":"ba","t":-1.005,"l":0.475,"h":0.645},{"s":"ba","t":-0.980,"l":0.455,"h":0.69},{"s":"ba","t":-0.955,"l":0.46,"h":0.64},{"s":"ba","t":-0.930,"l":0.47,"h":0.655},{"s":"ba","t":-0.905,"l":0.48,"h":0.65},
{"s":"ba","t":-0.880,"l":0.475,"h":0.67},{"s":"ba","t":-0.855,"l":0.465,"h":0.66},{"s":"ba","t":-0.830,"l":0.48,"h":0.685},{"s":"ba","t":-0.805,"l":0.465,"h":0.655},
{"s":"bb","t":0.60,"l":0.542,"h":0.563},{"s":"bb","t":0.70,"l":0.540,"h":0.566},{"s":"bb","t":0.80,"l":0.543,"h":0.562},{"s":"bb","t":0.90,"l":0.539,"h":0.565},{"s":"bb","t":1.00,"l":0.542,"h":0.568},{"s":"bb","t":1.10,"l":0.540,"h":0.563},{"s":"bb","t":1.20,"l":0.544,"h":0.566},{"s":"bb","t":1.30,"l":0.541,"h":0.562},{"s":"bb","t":1.40,"l":0.538,"h":0.565},{"s":"bb","t":1.50,"l":0.542,"h":0.564},{"s":"bb","t":1.60,"l":0.540,"h":0.567},{"s":"bb","t":1.70,"l":0.543,"h":0.562},{"s":"bb","t":1.80,"l":0.539,"h":0.565},{"s":"bb","t":1.90,"l":0.541,"h":0.563},{"s":"bb","t":2.00,"l":0.544,"h":0.566},{"s":"bb","t":2.10,"l":0.540,"h":0.562},{"s":"bb","t":2.20,"l":0.538,"h":0.565},{"s":"bb","t":2.30,"l":0.542,"h":0.567},{"s":"bb","t":2.40,"l":0.540,"h":0.563},{"s":"bb","t":2.50,"l":0.543,"h":0.566},{"s":"bb","t":2.60,"l":0.539,"h":0.564},{"s":"bb","t":2.70,"l":0.541,"h":0.567},{"s":"bb","t":2.80,"l":0.544,"h":0.563},{"s":"bb","t":2.90,"l":0.540,"h":0.566},{"s":"bb","t":3.00,"l":0.542,"h":0.562},{"s":"bb","t":3.10,"l":0.539,"h":0.565},{"s":"bb","t":3.17,"l":0.541,"h":0.564}
],
"labels": [
{"p":"top","t":0.137,"v":0.955,"text":"SFG (405 nm)"},
{"p":"top","t":-2.786,"v":0.385,"text":"1 MHz LP"},
{"p":"top","t":-2.786,"v":0.265,"text":"7 fs rms"},
{"p":"top","t":1.523,"v":0.39,"text":"160 Hz LP"},
{"p":"top","t":1.523,"v":0.255,"text":"1.3 fs rms"},
{"p":"bot","t":0.182,"v":0.832,"text":"DFG (7900 nm)"},
{"p":"bot","t":-2.903,"v":0.352,"text":"1 MHz LP"},
{"p":"bot","t":-2.903,"v":0.236,"text":"8 fs rms"},
{"p":"bot","t":1.439,"v":0.349,"text":"160 Hz LP"},
{"p":"bot","t":1.439,"v":0.231,"text":"1.5 fs rms"}
]
},
"vconcat": [
{
"width": 529, "height": 169,
"layer": [
{"data": {"name": "top"},
 "mark": {"type": "area", "strokeWidth": 1, "fillOpacity": 1, "clip": true},
 "encoding": {
  "x": {"field": "t", "type": "quantitative", "scale": {"domain": [-3.371, 3.314], "nice": false, "zero": false},
        "axis": {"values": [-3,-2,-1,0,1,2,3], "labelExpr": "datum.value < 0 ? '-' + abs(datum.value) : '' + datum.value", "title": null}},
  "y": {"field": "l", "type": "quantitative", "stack": null, "scale": {"domain": [-0.087, 1.114], "nice": false, "zero": false},
        "axis": {"values": [0,0.2,0.4,0.6,0.8,1], "format": ".1f", "labelOverlap": false, "title": "Power (arb. units)"}},
  "y2": {"field": "h"},
  "fill": {"field": "s", "type": "nominal", "scale": {"domain": ["tm","ta","tb","bm","ba","bb"], "range": ["#141414","#8a8a8a","#9e9e9e","#4c4c4c","#a2a2a2","#505050"]}, "legend": null},
  "stroke": {"field": "s", "type": "nominal", "scale": {"domain": ["tm","ta","tb","bm","ba","bb"], "range": ["#141414","#8a8a8a","#9e9e9e","#4c4c4c","#a2a2a2","#505050"]}, "legend": null}
 }},
{"data": {"name": "labels"}, "transform": [{"filter": "datum.p == 'top'"}],
 "mark": {"type": "text", "align": "left", "baseline": "alphabetic", "font": "Liberation Sans", "fontSize": 15, "color": "#1a1a1a"},
 "encoding": {"x": {"field": "t", "type": "quantitative", "axis": {"values": [-3,-2,-1,0,1,2,3], "labelExpr": "datum.value < 0 ? '-' + abs(datum.value) : '' + datum.value", "title": null}},
              "y": {"field": "v", "type": "quantitative", "axis": {"values": [0,0.2,0.4,0.6,0.8,1], "format": ".1f", "labelOverlap": false, "title": "Power (arb. units)"}},
              "text": {"field": "text"}}},
{"data": {"values": [{}]}, "mark": {"type": "rule", "color": "black", "strokeWidth": 1},
 "encoding": {"y": {"datum": 1.114, "type": "quantitative", "axis": {"values": [0,0.2,0.4,0.6,0.8,1], "format": ".1f", "labelOverlap": false, "title": "Power (arb. units)"}}}}
]
},
{
"width": 529, "height": 178,
"layer": [
{"data": {"name": "bot"},
 "mark": {"type": "area", "strokeWidth": 1, "fillOpacity": 1, "clip": true},
 "encoding": {
  "x": {"field": "t", "type": "quantitative", "scale": {"domain": [-3.463, 3.225], "nice": false, "zero": false},
        "axis": {"values": [-3,-2,-1,0,1,2,3], "labelExpr": "datum.value < 0 ? '-' + abs(datum.value) : '' + datum.value", "title": "Delay time (ps)", "titleX": 277, "titleFontSize": 16, "titlePadding": 2}},
  "y": {"field": "l", "type": "quantitative", "stack": null, "scale": {"domain": [-0.035, 1.01], "nice": false, "zero": false},
        "axis": {"values": [0,0.2,0.4,0.6,0.8,1], "format": ".1f", "labelOverlap": false, "title": "Power (arb. units)"}},
  "y2": {"field": "h"},
  "fill": {"field": "s", "type": "nominal", "scale": {"domain": ["tm","ta","tb","bm","ba","bb"], "range": ["#141414","#8a8a8a","#9e9e9e","#4c4c4c","#a2a2a2","#505050"]}, "legend": null},
  "stroke": {"field": "s", "type": "nominal", "scale": {"domain": ["tm","ta","tb","bm","ba","bb"], "range": ["#141414","#8a8a8a","#9e9e9e","#4c4c4c","#a2a2a2","#505050"]}, "legend": null}
 }},
{"data": {"name": "labels"}, "transform": [{"filter": "datum.p == 'bot'"}],
 "mark": {"type": "text", "align": "left", "baseline": "alphabetic", "font": "Liberation Sans", "fontSize": 15, "color": "#1a1a1a"},
 "encoding": {"x": {"field": "t", "type": "quantitative", "axis": {"values": [-3,-2,-1,0,1,2,3], "labelExpr": "datum.value < 0 ? '-' + abs(datum.value) : '' + datum.value", "title": "Delay time (ps)", "titleX": 277, "titleFontSize": 16, "titlePadding": 2}},
              "y": {"field": "v", "type": "quantitative", "axis": {"values": [0,0.2,0.4,0.6,0.8,1], "format": ".1f", "labelOverlap": false, "title": "Power (arb. units)"}},
              "text": {"field": "text"}}},
{"data": {"values": [{}]}, "mark": {"type": "rule", "color": "black", "strokeWidth": 1},
 "encoding": {"y": {"datum": 1.01, "type": "quantitative", "axis": {"values": [0,0.2,0.4,0.6,0.8,1], "format": ".1f", "labelOverlap": false, "title": "Power (arb. units)"}}}}
]
}
],
"spacing": 33,
"bounds": "flush",
"config": {
 "view": {"stroke": null},
 "axis": {"domainColor": "black", "tickColor": "black", "labelColor": "#1a1a1a", "titleColor": "#1a1a1a", "labelFont": "Liberation Sans", "titleFont": "Liberation Sans", "labelFontSize": 12, "titleFontSize": 14, "titleFontWeight": "normal", "grid": false, "tickSize": 5, "domainWidth": 1, "tickWidth": 1, "labelOverlap": false},
 "axisX": {"labelPadding": 5},
 "axisY": {"labelPadding": 4, "titlePadding": 7}
}
}
